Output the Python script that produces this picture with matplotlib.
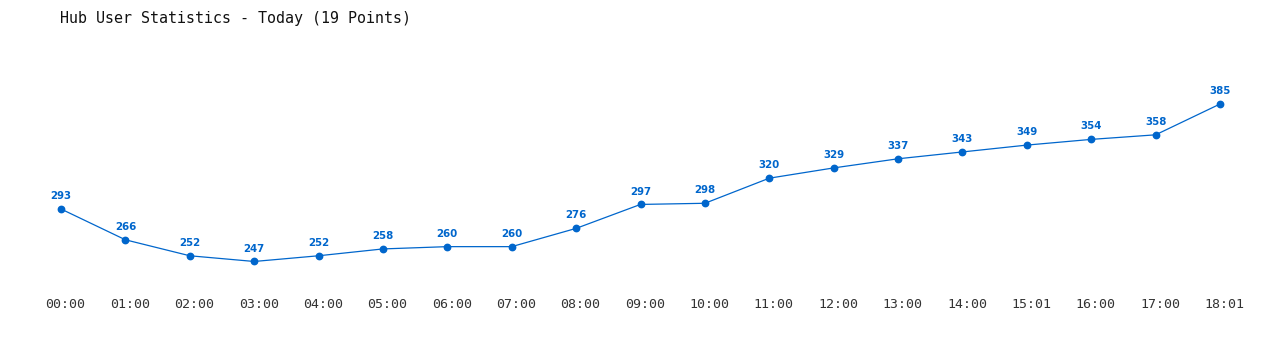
import matplotlib
matplotlib.use("Agg")
import matplotlib.pyplot as plt
import matplotlib.transforms as mtransforms

times = ["00:00", "01:00", "02:00", "03:00", "04:00", "05:00", "06:00", "07:00",
         "08:00", "09:00", "10:00", "11:00", "12:00", "13:00", "14:00", "15:01",
         "16:00", "17:00", "18:01"]
users = [293, 266, 252, 247, 252, 258, 260, 260, 276, 297, 298, 320, 329, 337,
         343, 349, 354, 358, 385]
title = "Hub User Statistics - Today (19 Points)"

color = "#0066CC"
W, H = 1280, 350
fig = plt.figure(figsize=(W / 100, H / 100), dpi=100)
fig.patch.set_facecolor("white")

# axes pixel geometry
left_px, right_px = 61 - 32.2, 1220 + 32.2
top_px, bottom_px = 86.9, 290.0
ax = fig.add_axes([left_px / W, 1 - bottom_px / H, (right_px - left_px) / W,
                   (bottom_px - top_px) / H])
x = list(range(len(times)))
ax.plot(x, users, color=color, lw=0.9, marker="o", ms=4.6, zorder=3)
for xi, v in zip(x, users):
    ax.annotate(str(v), (xi, v), xytext=(0, 9.3), textcoords="offset points",
                ha="center", va="center", fontsize=7.4, fontweight="bold",
                color=color, family="DejaVu Sans")
ax.set_xlim(-0.5, len(times) - 0.5)
ax.set_ylim(222, 400)
ax.set_xticks(x)
ax.set_xticklabels(times, family="DejaVu Sans Mono", fontsize=9.5, color="#333333")
ax.tick_params(axis="x", length=0, pad=6)
shift = mtransforms.ScaledTranslation(4.5 / 100, 0, fig.dpi_scale_trans)
for lab in ax.get_xticklabels():
    lab.set_transform(lab.get_transform() + shift)
ax.set_yticks([])
for s in ax.spines.values():
    s.set_visible(False)

fig.text(60 / W, 1 - 18 / H, title, family="DejaVu Sans Mono", fontsize=10.8,
         color="#111111", ha="left", va="center")

fig.savefig("out.png", dpi=100, facecolor="white")
